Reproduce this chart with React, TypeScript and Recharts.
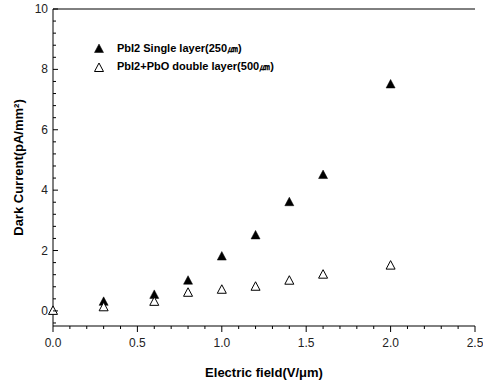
import { ScatterChart, Scatter, XAxis, YAxis, ReferenceLine } from 'recharts';

const FONT = '"Liberation Sans", Arial, sans-serif';

// electric field (V/um) vs dark current (pA/mm^2)
const singleX = [0.3, 0.6, 0.8, 1.0, 1.2, 1.4, 1.6, 2.0];
const singleY = [0.3, 0.53, 1.0, 1.8, 2.5, 3.6, 4.5, 7.5];
const doubleX = [0, 0.3, 0.6, 0.8, 1.0, 1.2, 1.4, 1.6, 2.0];
const doubleY = [0, 0.12, 0.3, 0.6, 0.7, 0.8, 1.0, 1.2, 1.5];

const seriesNames = ['PbI2 Single layer(250㎛)', 'PbI2+PbO double layer(500㎛)'];

// minor ticks every 0.1 on x, every 0.4 on y
const xTicks = Array.from({ length: 26 }, (_, i) => i / 10);
const yTicks = Array.from({ length: 27 }, (_, i) => Math.round((i * 0.4 - 0.4) * 10) / 10);
const yMajor = [0, 2, 4, 6, 8, 10];

const singleData = singleX.map((x, i) => ({ x, y: singleY[i] }));
const doubleData = doubleX.map((x, i) => ({ x, y: doubleY[i] }));

function Triangle(props: any) {
  const { cx, cy, open } = props;
  if (cx == null || cy == null) return null;
  const d = `M${cx},${cy - 5} L${cx + 4.5},${cy + 3.5} L${cx - 4.5},${cy + 3.5} Z`;
  return open ? (
    <path d={d} fill="#fff" stroke="#000" strokeWidth={1} />
  ) : (
    <path d={d} fill="#000" stroke="#000" strokeWidth={0.5} />
  );
}

function isMultiple(v: number, step: number) {
  const r = v / step;
  return Math.abs(r - Math.round(r)) < 1e-6;
}

function BottomTick(props: any) {
  const { x, y, payload } = props;
  const v = payload.value as number;
  const major = isMultiple(v, 0.5);
  return (
    <g>
      <line x1={x} x2={x} y1={y} y2={y + (major ? 6 : 3)} stroke="#000" />
      {major && (
        <text x={x} y={y + 21} textAnchor="middle" fontSize={12} fontFamily={FONT} fill="#222">
          {v.toFixed(1)}
        </text>
      )}
    </g>
  );
}

function LeftTick(props: any) {
  const { x, y, payload } = props;
  const v = payload.value as number;
  const major = isMultiple(v, 2);
  return (
    <g>
      <line x1={x} x2={x + (major ? 5 : 3)} y1={y} y2={y} stroke="#000" />
      {major && (
        <text x={x - 5} y={y + 4} textAnchor="end" fontSize={12} fontFamily={FONT} fill="#222">
          {v}
        </text>
      )}
    </g>
  );
}

function RightTick(props: any) {
  const { x, y } = props;
  return <line x1={x} x2={x - 4} y1={y} y2={y} stroke="#000" />;
}

function LegendBox() {
  return (
    <div
      style={{
        position: 'absolute',
        left: 93,
        top: 39,
        fontFamily: FONT,
        fontWeight: 'bold',
        fontSize: 11,
        color: '#000',
      }}
    >
      {seriesNames.map((name, i) => (
        <div key={name} style={{ display: 'flex', alignItems: 'center', height: 18.5 }}>
          <svg width={24} height={12}>
            <Triangle cx={6} cy={7} open={i === 1} />
          </svg>
          <span>{name}</span>
        </div>
      ))}
    </div>
  );
}

export default function App() {
  return (
    <div style={{ position: 'absolute', left: 0, top: 0, width: 483, height: 386, background: '#fff' }}>
      <ScatterChart width={483} height={386} margin={{ top: 9, right: 8, bottom: 0, left: 0 }}>
        <XAxis
          type="number"
          dataKey="x"
          domain={[0, 2.5]}
          ticks={xTicks}
          interval={0}
          height={60}
          tickSize={0}
          tickMargin={0}
          tickLine={false}
          axisLine={{ stroke: '#000' }}
          tick={<BottomTick />}
          label={{
            content: (p: any) => {
              const vb = p.viewBox;
              return (
                <text
                  x={vb.x + vb.width / 2}
                  y={vb.y + 51}
                  textAnchor="middle"
                  fontSize={13}
                  fontWeight="bold"
                  fontFamily={FONT}
                  fill="#000"
                >
                  Electric field(V/μm)
                </text>
              );
            },
          }}
        />
        <YAxis
          yAxisId="left"
          type="number"
          dataKey="y"
          domain={[-0.5, 10]}
          ticks={yTicks}
          interval={0}
          width={53}
          tickSize={0}
          tickMargin={0}
          tickLine={false}
          axisLine={{ stroke: '#000' }}
          tick={<LeftTick />}
          label={{
            content: (p: any) => {
              const vb = p.viewBox;
              const cx = vb.x + 23;
              const cy = vb.y + vb.height / 2;
              return (
                <text
                  x={cx}
                  y={cy}
                  transform={`rotate(-90 ${cx} ${cy})`}
                  textAnchor="middle"
                  fontSize={13}
                  fontWeight="bold"
                  fontFamily={FONT}
                  fill="#000"
                >
                  Dark Current(pA/mm²)
                </text>
              );
            },
          }}
        />
        <YAxis
          yAxisId="right"
          orientation="right"
          type="number"
          domain={[-0.5, 10]}
          ticks={yMajor}
          interval={0}
          width={0}
          tickSize={0}
          tickMargin={0}
          tickLine={false}
          axisLine={{ stroke: '#000' }}
          tick={<RightTick />}
        />
        <ReferenceLine yAxisId="left" y={10} stroke="#000" />
        <Scatter
          yAxisId="left"
          name={seriesNames[0]}
          data={singleData}
          shape={(p: any) => <Triangle {...p} />}
          isAnimationActive={false}
        />
        <Scatter
          yAxisId="left"
          name={seriesNames[1]}
          data={doubleData}
          shape={(p: any) => <Triangle {...p} open />}
          isAnimationActive={false}
        />
      </ScatterChart>
      <LegendBox />
    </div>
  );
}
